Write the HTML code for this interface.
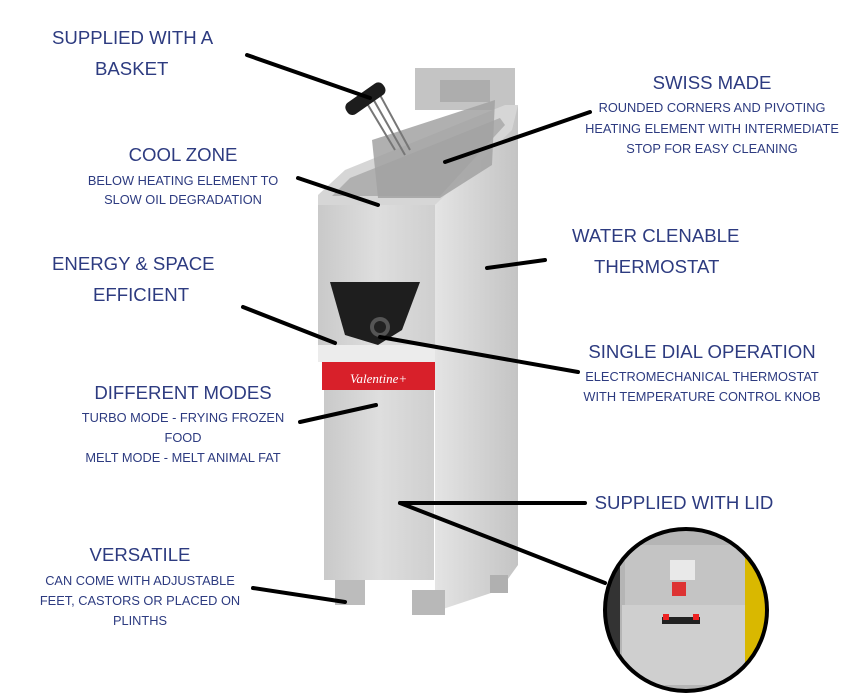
<!DOCTYPE html>
<html><head><meta charset="utf-8"><style>
body{margin:0;width:850px;height:700px;background:#fff;position:relative;overflow:hidden;font-family:"Liberation Sans",sans-serif;color:#2d3b80}
.t{position:absolute;font-size:18.6px;line-height:24px;white-space:nowrap}
.s{position:absolute;font-size:12.8px;line-height:16px;white-space:nowrap}
.c{transform:translateX(-50%)}
svg{position:absolute;left:0;top:0}
</style></head><body>
<svg width="850" height="700" viewBox="0 0 850 700">
<defs>
<linearGradient id="g1" x1="0" x2="1"><stop offset="0" stop-color="#c9c9c9"/><stop offset="0.5" stop-color="#dedede"/><stop offset="1" stop-color="#cfcfcf"/></linearGradient>
<linearGradient id="g2" x1="0" x2="1"><stop offset="0" stop-color="#e4e4e4"/><stop offset="1" stop-color="#c4c4c4"/></linearGradient>
<clipPath id="cc"><circle cx="686" cy="610" r="80"/></clipPath>
</defs>
<rect x="415" y="68" width="100" height="42" fill="#c4c4c4"/>
<rect x="440" y="80" width="50" height="22" fill="#adadad"/>
<polygon points="435,205 518,105 518,565 500,590 440,610 435,590" fill="url(#g2)"/>
<polygon points="318,195 345,170 505,105 518,105 512,130 435,205 318,205" fill="#d6d6d6"/>
<polygon points="332,196 350,178 500,118 505,125 440,196" fill="#b0b0b0"/>
<polygon points="372,140 495,100 492,165 440,198 378,198" fill="#a2a2a2" opacity="0.85"/>
<path d="M365,100 L395,150 M372,97 L405,155 M380,95 L410,150" stroke="#777" stroke-width="2"/>
<rect x="343" y="92" width="45" height="14" rx="6" fill="#1c1c1c" transform="rotate(-35 365 99)"/>
<rect x="318" y="205" width="117" height="140" fill="url(#g1)"/>
<polygon points="330,282 420,282 402,330 378,345 345,335" fill="#1e1e1e"/>
<circle cx="380" cy="327" r="10" fill="#555"/><circle cx="380" cy="327" r="6" fill="#222"/>
<rect x="322" y="362" width="113" height="28" fill="#d8202a"/>
<text x="350" y="383" font-family="Liberation Serif" font-style="italic" font-size="13" fill="#fff">Valentine+</text>
<rect x="324" y="390" width="110" height="190" fill="url(#g1)"/>
<rect x="318" y="345" width="117" height="17" fill="#ececec"/>
<rect x="335" y="580" width="30" height="25" fill="#bcbcbc"/>
<rect x="412" y="590" width="33" height="25" fill="#b8b8b8"/>
<rect x="490" y="575" width="18" height="18" fill="#b0b0b0"/>
<g stroke="#000" stroke-width="4" stroke-linecap="round">
<line x1="247" y1="55" x2="370" y2="98"/>
<line x1="298" y1="178" x2="378" y2="205"/>
<line x1="590" y1="112" x2="445" y2="162"/>
<line x1="487" y1="268" x2="545" y2="260"/>
<line x1="243" y1="307" x2="335" y2="343"/>
<line x1="380" y1="337" x2="578" y2="372"/>
<line x1="300" y1="422" x2="376" y2="405"/>
<line x1="400" y1="503" x2="585" y2="503"/>
<line x1="400" y1="503" x2="605" y2="583"/>
<line x1="253" y1="588" x2="345" y2="602"/>
</g>
<g clip-path="url(#cc)">
<rect x="600" y="525" width="175" height="175" fill="#b5b5b5"/>
<rect x="740" y="525" width="40" height="170" fill="#d9b800"/>
<rect x="600" y="525" width="20" height="170" fill="#333"/>
<rect x="625" y="545" width="120" height="60" fill="#c4c4c4"/>
<rect x="622" y="605" width="123" height="80" fill="#cfcfcf"/>
<rect x="670" y="560" width="25" height="20" fill="#e9e9e9"/>
<rect x="672" y="582" width="14" height="14" fill="#d33"/>
<rect x="662" y="617" width="38" height="7" fill="#222"/>
<rect x="663" y="614" width="6" height="6" fill="#e22"/><rect x="693" y="614" width="6" height="6" fill="#e22"/>
</g>
<circle cx="686" cy="610" r="81" fill="none" stroke="#000" stroke-width="4"/>
</svg>

<div class="t" style="left:52px;top:26px">SUPPLIED WITH A</div>
<div class="t" style="left:95px;top:57px">BASKET</div>
<div class="t c" style="left:183px;top:143px">COOL ZONE</div>
<div class="s c" style="left:183px;top:173px">BELOW HEATING ELEMENT TO</div>
<div class="s c" style="left:183px;top:192px">SLOW OIL DEGRADATION</div>
<div class="t" style="left:52px;top:252px">ENERGY &amp; SPACE</div>
<div class="t" style="left:93px;top:283px">EFFICIENT</div>
<div class="t c" style="left:183px;top:381px">DIFFERENT MODES</div>
<div class="s c" style="left:183px;top:410px">TURBO MODE - FRYING FROZEN</div>
<div class="s c" style="left:183px;top:430px">FOOD</div>
<div class="s c" style="left:183px;top:450px">MELT MODE - MELT ANIMAL FAT</div>
<div class="t c" style="left:140px;top:543px">VERSATILE</div>
<div class="s c" style="left:140px;top:573px">CAN COME WITH ADJUSTABLE</div>
<div class="s c" style="left:140px;top:593px">FEET, CASTORS OR PLACED ON</div>
<div class="s c" style="left:140px;top:613px">PLINTHS</div>
<div class="t c" style="left:712px;top:71px">SWISS MADE</div>
<div class="s c" style="left:712px;top:100px">ROUNDED CORNERS AND PIVOTING</div>
<div class="s c" style="left:712px;top:121px">HEATING ELEMENT WITH INTERMEDIATE</div>
<div class="s c" style="left:712px;top:141px">STOP FOR EASY CLEANING</div>
<div class="t" style="left:572px;top:224px">WATER CLENABLE</div>
<div class="t" style="left:594px;top:255px">THERMOSTAT</div>
<div class="t c" style="left:702px;top:340px">SINGLE DIAL OPERATION</div>
<div class="s c" style="left:702px;top:369px">ELECTROMECHANICAL THERMOSTAT</div>
<div class="s c" style="left:702px;top:389px">WITH TEMPERATURE CONTROL KNOB</div>
<div class="t c" style="left:684px;top:491px">SUPPLIED WITH LID</div>
</body></html>
